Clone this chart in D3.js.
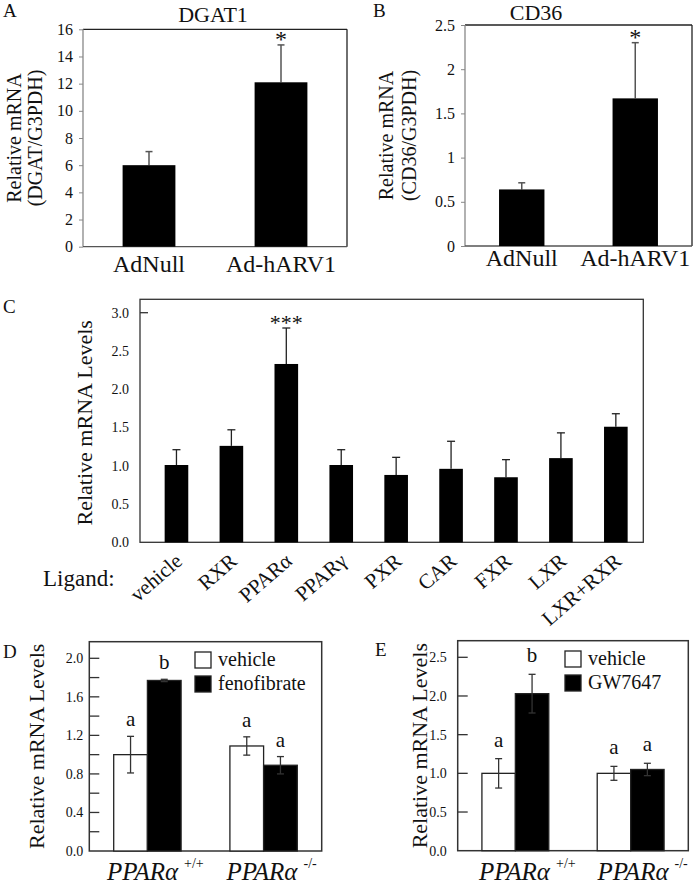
<!DOCTYPE html>
<html><head><meta charset="utf-8">
<script src="https://cdn.jsdelivr.net/npm/d3@7"></script>
<style>body{margin:0;background:#fff}svg{display:block}text{font-family:"Liberation Serif","Times New Roman",Times,serif}</style>
</head><body>
<script>
// ---------------- DATA ----------------
const abCategories = ["AdNull", "Ad-hARV1"];
const dgatValues = [6.0, 12.1];
const dgatErrors = [1.0, 2.75];
const dgatTicks = [0, 2, 4, 6, 8, 10, 12, 14, 16];
const dgatStars = ["", "*"];

const cd36Values = [0.64, 1.67];
const cd36Errors = [0.075, 0.63];
const cd36Ticks = [0, 0.5, 1, 1.5, 2, 2.5];
const cd36Stars = ["", "*"];

const ligandCategories = ["vehicle", "RXR", "PPARα", "PPARγ", "PXR", "CAR", "FXR", "LXR", "LXR+RXR"];
const ligandValues = [1.01, 1.26, 2.33, 1.01, 0.88, 0.96, 0.85, 1.10, 1.51];
const ligandErrors = [0.20, 0.21, 0.47, 0.20, 0.23, 0.36, 0.23, 0.33, 0.17];
const ligandStars = ["", "", "***", "", "", "", "", "", ""];
const ligandTicks = [0, 0.5, 1.0, 1.5, 2.0, 2.5, 3.0];
const ligandTickMarks = [3.0];

const genotypes = ["+/+", "-/-"];
const fenoSeries = ["vehicle", "fenofibrate"];
const fenoVehicle = [1.0, 1.09];
const fenoVehicleErr = [0.19, 0.095];
const fenoDrug = [1.77, 0.89];
const fenoDrugErr = [0.012, 0.09];
const fenoLetters = [["a", "b"], ["a", "a"]];
const fenoTicks = [0, 0.4, 0.8, 1.2, 1.6, 2.0];
const fenoMinorTicks = [0.2, 0.4, 0.6, 0.8, 1.0, 1.2, 1.4, 1.6, 1.8, 2.0];

const gwSeries = ["vehicle", "GW7647"];
const gwVehicle = [1.0, 1.0];
const gwVehicleErr = [0.19, 0.09];
const gwDrug = [2.03, 1.05];
const gwDrugErr = [0.25, 0.08];
const gwLetters = [["a", "b"], ["a", "a"]];
const gwTicks = [0, 0.5, 1.0, 1.5, 2.0, 2.5];

// ---------------- SETUP ----------------
const FONT = '"Liberation Serif","Times New Roman",Times,serif';
const svg = d3.select("body").append("svg")
  .attr("width", 693).attr("height", 888);

function txt(g, x, y, s, size, o = {}) {
  const t = g.append("text").attr("x", x).attr("y", y)
    .attr("font-size", size).attr("font-family", FONT).attr("fill", "#111")
    .attr("text-anchor", o.anchor || "start").text(s);
  if (o.rotate !== undefined) t.attr("transform", `rotate(${o.rotate},${x},${y})`);
  if (o.italic) t.attr("font-style", "italic");
  return t;
}

function errBar(g, cx, y0, y1, cap, color, w) {
  g.append("line").attr("x1", cx).attr("x2", cx).attr("y1", y0).attr("y2", y1)
    .attr("stroke", color).attr("stroke-width", w);
  g.append("line").attr("x1", cx - cap / 2).attr("x2", cx + cap / 2).attr("y1", y1).attr("y2", y1)
    .attr("stroke", color).attr("stroke-width", w);
}

function styleAxis(ax, size) {
  ax.attr("font-family", FONT);
  ax.select(".domain").remove();
  ax.selectAll(".tick text").attr("font-size", size).attr("font-family", FONT).attr("fill", "#111");
}

// ---------------- PANELS A & B ----------------
function panelAB(cfg) {
  const g = svg.append("g");
  const x = d3.scaleBand().domain(abCategories).range([cfg.l, cfg.r]).paddingInner(0.6).paddingOuter(0.3);
  const y = d3.scaleLinear().domain([0, cfg.yMax]).range([cfg.b, cfg.t]);
  g.append("line").attr("x1", cfg.l).attr("x2", cfg.r).attr("y1", cfg.t).attr("y2", cfg.t).attr("stroke", "#222").attr("stroke-width", 1.3);
  g.append("line").attr("x1", cfg.r).attr("x2", cfg.r).attr("y1", cfg.t).attr("y2", cfg.b).attr("stroke", "#222").attr("stroke-width", 1.3);
  const ax = g.append("g").attr("transform", `translate(${cfg.l},0)`)
    .call(d3.axisLeft(y).tickValues(cfg.ticks).tickSize(4).tickPadding(6).tickFormat(d => String(d)));
  styleAxis(ax, 16);
  ax.selectAll(".tick line").attr("stroke", "#888");
  g.append("line").attr("x1", cfg.l).attr("x2", cfg.l).attr("y1", cfg.t).attr("y2", cfg.b).attr("stroke", "#888").attr("stroke-width", 1.3);
  g.append("line").attr("x1", cfg.l).attr("x2", cfg.r).attr("y1", cfg.b).attr("y2", cfg.b).attr("stroke", "#555").attr("stroke-width", 1.3);
  abCategories.forEach((c, i) => {
    const cx = x(c) + x.bandwidth() / 2;
    errBar(g, cx, y(cfg.vals[i]), y(cfg.vals[i] + cfg.errs[i]), 7, "#555", 1.5);
    g.append("rect").attr("x", x(c)).attr("y", y(cfg.vals[i])).attr("width", x.bandwidth())
      .attr("height", y(0) - y(cfg.vals[i])).attr("fill", "#000");
    if (cfg.stars[i]) txt(g, cx, y(cfg.vals[i] + cfg.errs[i]) + 2, cfg.stars[i], 24, { anchor: "middle" });
    txt(g, cx, cfg.labelY, c, 24, { anchor: "middle" });
  });
  txt(g, cfg.titleX, cfg.titleY, cfg.title, 22, { anchor: "middle" });
  const cy = (cfg.t + cfg.b) / 2;
  txt(g, cfg.ylx[0], cy, "Relative mRNA", 20, { anchor: "middle", rotate: -90 });
  txt(g, cfg.ylx[1], cy, cfg.ylab2, 20, { anchor: "middle", rotate: -90 });
  txt(g, cfg.pl[0], cfg.pl[1], cfg.panel, 19);
}

panelAB({ l: 83, r: 347, t: 29.3, b: 246.7, yMax: 16, ticks: dgatTicks, vals: dgatValues, errs: dgatErrors,
  stars: dgatStars, title: "DGAT1", titleX: 213, titleY: 22, labelY: 272, ylab2: "(DGAT/G3PDH)",
  ylx: [21, 42], pl: [3, 17], panel: "A" });
panelAB({ l: 465, r: 692, t: 25, b: 246, yMax: 2.5, ticks: cd36Ticks, vals: cd36Values, errs: cd36Errors,
  stars: cd36Stars, title: "CD36", titleX: 536, titleY: 20, labelY: 266, ylab2: "(CD36/G3PDH)",
  ylx: [393, 416], pl: [373, 17], panel: "B" });

// ---------------- PANEL C ----------------
(function () {
  const g = svg.append("g");
  const L = 140, R = 643.3, T = 299.3, B = 542.3;
  const x = d3.scaleBand().domain(ligandCategories).range([149, R]).paddingInner(0.57).paddingOuter(0.285);
  const y = d3.scaleLinear().domain([0, 3]).range([B, 312.7]);
  g.append("rect").attr("x", L).attr("y", T).attr("width", R - L).attr("height", B - T)
    .attr("fill", "none").attr("stroke", "#333").attr("stroke-width", 1.3);
  const ax = g.append("g").attr("transform", `translate(${L},0)`)
    .call(d3.axisLeft(y).tickValues(ligandTicks).tickSize(0).tickPadding(11).tickFormat(d3.format(".1f")));
  styleAxis(ax, 14);
  ligandTickMarks.forEach(v => g.append("line").attr("x1", L).attr("x2", L + 8).attr("y1", y(v)).attr("y2", y(v))
    .attr("stroke", "#333").attr("stroke-width", 1.3));
  ligandCategories.forEach((c, i) => {
    const cx = x(c) + x.bandwidth() / 2;
    errBar(g, cx, y(ligandValues[i]), y(ligandValues[i] + ligandErrors[i]), 8, "#222", 1.3);
    g.append("rect").attr("x", x(c)).attr("y", y(ligandValues[i])).attr("width", x.bandwidth())
      .attr("height", y(0) - y(ligandValues[i])).attr("fill", "#000");
    if (ligandStars[i]) txt(g, cx, y(ligandValues[i] + ligandErrors[i]) + 2, ligandStars[i], 22, { anchor: "middle" });
    txt(g, cx + 7, 563, c, 21, { anchor: "end", rotate: -41 });
  });
  txt(g, 92, (T + B) / 2 + 2, "Relative mRNA Levels", 22, { anchor: "middle", rotate: -90 });
  txt(g, 43, 586, "Ligand:", 23);
  txt(g, 3, 313, "C", 19);
})();

// ---------------- PANELS D & E ----------------
function panelDE(cfg) {
  const g = svg.append("g");
  const x0 = d3.scaleBand().domain(genotypes).range([cfg.l, cfg.r]).paddingInner(0.42).paddingOuter(0.21);
  const x1 = d3.scaleBand().domain(cfg.series).range([0, x0.bandwidth()]);
  const y = d3.scaleLinear().domain([0, cfg.yTop]).range([cfg.b, cfg.yTopPx]);
  g.append("rect").attr("x", cfg.l).attr("y", cfg.t).attr("width", cfg.r - cfg.l).attr("height", cfg.b - cfg.t)
    .attr("fill", "none").attr("stroke", "#333").attr("stroke-width", 1.5);
  cfg.marks.forEach(v => g.append("line").attr("x1", cfg.l).attr("x2", cfg.l + 10).attr("y1", y(v)).attr("y2", y(v))
    .attr("stroke", "#333").attr("stroke-width", 1.3));
  const ax = g.append("g").attr("transform", `translate(${cfg.l},0)`)
    .call(d3.axisLeft(y).tickValues(cfg.ticks).tickSize(0).tickPadding(cfg.tickPad).tickFormat(d3.format(".1f")));
  styleAxis(ax, 14);
  genotypes.forEach((gt, gi) => {
    const vals = [cfg.veh[gi], cfg.drug[gi]];
    const errs = [cfg.vehErr[gi], cfg.drugErr[gi]];
    cfg.series.forEach((s, si) => {
      const bx = x0(gt) + x1(s);
      const cx = bx + x1.bandwidth() / 2;
      g.append("rect").attr("x", bx).attr("y", y(vals[si])).attr("width", x1.bandwidth())
        .attr("height", y(0) - y(vals[si])).attr("fill", si ? "#000" : "#fff")
        .attr("stroke", "#222").attr("stroke-width", 1.3);
      errBar(g, cx, y(vals[si]), y(vals[si] + errs[si]), 7, "#333", 1.3);
      errBar(g, cx, y(vals[si]), y(vals[si] - errs[si]), 7, "#333", 1.3);
      txt(g, cx, y(vals[si] + errs[si]) - cfg.letterGap, cfg.letters[gi][si], 21, { anchor: "middle" });
    });
    const lx = x0(gt) + x0.bandwidth() / 2 + cfg.labelShift;
    const t = g.append("text").attr("x", lx).attr("y", 880).attr("text-anchor", "middle")
      .attr("font-family", FONT).attr("font-size", 25).attr("fill", "#111");
    t.append("tspan").attr("font-style", "italic").text("PPARα");
    t.append("tspan").attr("font-size", 14).attr("dx", 6).attr("dy", -12).text(gt);
  });
  cfg.series.forEach((s, si) => {
    const ly = cfg.legY[si];
    g.append("rect").attr("x", cfg.legX).attr("y", ly).attr("width", 16).attr("height", 16)
      .attr("fill", si ? "#000" : "#fff").attr("stroke", "#222").attr("stroke-width", 1.3);
    txt(g, cfg.legX + 23, ly + 14, s, 20);
  });
  txt(g, cfg.ylx, (cfg.t + cfg.b) / 2, "Relative mRNA Levels", 22, { anchor: "middle", rotate: -90 });
  txt(g, cfg.pl[0], cfg.pl[1], cfg.panel, 19);
}

panelDE({ l: 89.3, r: 321.7, t: 641.7, b: 851, yTop: 2.0, yTopPx: 658.3, series: fenoSeries,
  veh: fenoVehicle, vehErr: fenoVehicleErr, drug: fenoDrug, drugErr: fenoDrugErr, letters: fenoLetters,
  ticks: fenoTicks, marks: fenoMinorTicks, tickPad: 6, letterGap: 10, labelShift: 8,
  legX: 195, legY: [652, 676], ylx: 44, pl: [3, 658], panel: "D" });
panelDE({ l: 457.7, r: 688.3, t: 640.7, b: 850.7, yTop: 2.5, yTopPx: 657.3, series: gwSeries,
  veh: gwVehicle, vehErr: gwVehicleErr, drug: gwDrug, drugErr: gwDrugErr, letters: gwLetters,
  ticks: gwTicks, marks: gwTicks.slice(1), tickPad: 11, letterGap: 12, labelShift: 12,
  legX: 565, legY: [651, 675], ylx: 427, pl: [375, 656], panel: "E" });
</script>
</body></html>
